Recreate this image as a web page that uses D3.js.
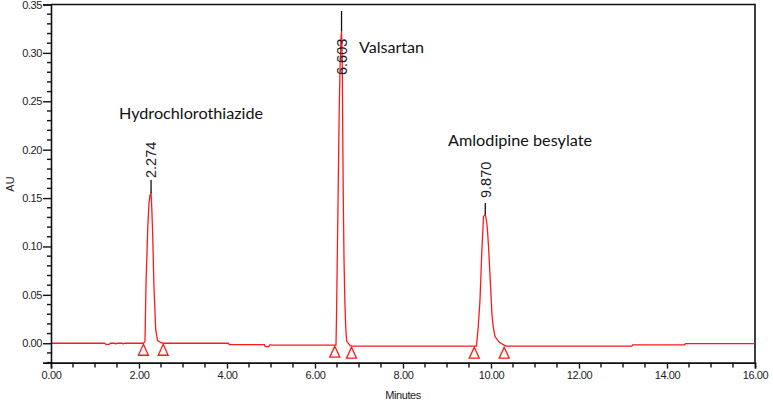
<!DOCTYPE html>
<html>
<head>
<meta charset="utf-8">
<script src="https://cdn.jsdelivr.net/npm/d3@7/dist/d3.min.js"></script>
<style>
  html, body { margin: 0; padding: 0; background: #fff; }
  svg { display: block; }
</style>
</head>
<body>
<svg id="chart" width="773" height="405"></svg>
<script>
// ---------------- DATA ----------------
// Chromatogram trace: [minutes, AU]
const baseline1 = [[0,0],[1.22,0],[1.25,-0.0012],[1.32,-0.0012],[1.35,0],[1.45,0],[1.47,-0.0008],[1.5,0],[1.62,0],[1.64,-0.0008],[1.67,0],[2.10,0]];
const peakHCTZ = [[2.136,0.002],[2.16,0.063],[2.20,0.12],[2.227,0.145],[2.25,0.153],[2.274,0.155],[2.29,0.14],[2.31,0.114],[2.34,0.058],[2.38,0.014],[2.42,0.003],[2.5,0.0005],[2.55,0]];
const baseline2 = [[4.03,0],[4.05,-0.0015],[4.85,-0.0015],[4.87,-0.0035],[4.95,-0.0035],[4.98,-0.0015],[5.02,-0.002],[6.45,-0.002]];
const peakVAL = [[6.477,-0.002],[6.49,0.031],[6.51,0.1],[6.53,0.169],[6.55,0.24],[6.57,0.286],[6.59,0.315],[6.603,0.322],[6.612,0.31],[6.62,0.286],[6.63,0.22],[6.645,0.141],[6.66,0.085],[6.68,0.041],[6.70,0.015],[6.72,0.002],[6.8,-0.0025],[6.85,-0.003]];
const baseline3 = [[9.62,-0.003]];
const peakAML = [[9.67,-0.003],[9.71,0.017],[9.75,0.045],[9.79,0.093],[9.83,0.131],[9.87,0.1333],[9.9,0.126],[9.92,0.117],[9.95,0.095],[9.975,0.072],[10.0,0.05],[10.02,0.031],[10.05,0.017],[10.09,0.007],[10.19,0.001],[10.3,-0.002],[10.35,-0.003]];
const baseline4 = [[13.2,-0.003],[13.22,-0.0017],[14.4,-0.0017],[14.42,-0.0003],[16,-0.0003]];

// Peaks: names, retention times, apex heights
const compounds = ["Hydrochlorothiazide", "Valsartan", "Amlodipine besylate"];
const retentionTimes = [2.274, 6.603, 9.870];
const rtLabels = ["2.274", "6.603", "9.870"];
const apexAU = [0.155, 0.322, 0.1333];
// Integration start/end markers (minutes) and baseline level at each
const markerTimes = [2.10, 2.55, 6.45, 6.83, 9.62, 10.30];
const markerAU = [0, 0, -0.002, -0.003, -0.003, -0.003];

// Axis ticks
const xMajorTicks = [0, 2, 4, 6, 8, 10, 12, 14, 16];
const yMajorTicks = [0.00, 0.05, 0.10, 0.15, 0.20, 0.25, 0.30, 0.35];
const xTitle = "Minutes";
const yTitle = "AU";

// ---------------- LAYOUT ----------------
const svg = d3.select("#chart");
const x = d3.scaleLinear().domain([0, 16]).range([51, 755]);
const y = d3.scaleLinear().domain([-0.02, 0.35]).range([362.6, 4.5]);

// frame (top & right)
svg.append("path")
  .attr("d", `M${x(0)},${y(0.35)}H${x(16)}V${y(-0.02)}`)
  .attr("fill", "none").attr("stroke", "#111").attr("stroke-width", 1.6);

// trace
const trace = [].concat(baseline1, peakHCTZ, baseline2, peakVAL, baseline3, peakAML, baseline4);
const line = d3.line().x(d => x(d[0])).y(d => y(d[1]));
svg.append("path").datum(trace)
  .attr("d", line)
  .attr("fill", "none").attr("stroke", "#ff1a1a").attr("stroke-width", 1.3);

// markers (triangles below baseline)
svg.selectAll("path.mk").data(markerTimes).enter().append("path")
  .attr("class", "mk")
  .attr("d", (t, i) => {
    const cx = x(t), cy = y(markerAU[i]) + 1;
    return `M${cx},${cy}L${cx + 5},${cy + 11}L${cx - 5},${cy + 11}Z`;
  })
  .attr("fill", "#fff").attr("stroke", "#ff1a1a").attr("stroke-width", 1.3);

// axes
const tickFont = "Liberation Sans, Arial, sans-serif";
const xAxis = d3.axisBottom(x).tickValues(xMajorTicks).tickFormat(d3.format(".2f")).tickSize(6).tickPadding(3);
const gx = svg.append("g").attr("transform", `translate(0,${y(-0.02)})`).call(xAxis);
const xMinor = d3.range(0, 16.01, 0.5).filter(v => v % 2 !== 0);
gx.selectAll("line.minor").data(xMinor).enter().append("line")
  .attr("class", "minor").attr("x1", d => x(d)).attr("x2", d => x(d))
  .attr("y1", 0).attr("y2", 5).attr("stroke", "#111").attr("stroke-width", 1.4);

const yAxis = d3.axisLeft(y).tickValues(yMajorTicks).tickFormat(d3.format(".2f")).tickSize(8).tickPadding(1);
const gy = svg.append("g").attr("transform", `translate(${x(0)},0)`).call(yAxis);
const yMinor = d3.range(-0.02, 0.351, 0.01).map(v => Math.round(v * 100) / 100).filter(v => Math.round(v * 100) % 5 !== 0 || v < 0);
gy.selectAll("line.minor").data(yMinor).enter().append("line")
  .attr("class", "minor").attr("y1", d => y(d)).attr("y2", d => y(d))
  .attr("x1", 0).attr("x2", -4).attr("stroke", "#111").attr("stroke-width", 1.4);

[gx, gy].forEach(g => {
  g.select(".domain").attr("stroke", "#111").attr("stroke-width", 1.6);
  g.selectAll(".tick line").attr("stroke", "#111").attr("stroke-width", 1.4);
  g.selectAll("text").attr("font-family", tickFont).attr("font-size", 11)
    .attr("letter-spacing", -0.4).attr("fill", "#222");
});

// axis titles
svg.append("text").attr("x", 403).attr("y", 399).attr("text-anchor", "middle")
  .attr("font-family", tickFont).attr("font-size", 11).attr("letter-spacing", -0.4)
  .attr("fill", "#222").text(xTitle);
svg.append("text").attr("transform", "translate(14,184) rotate(-90)").attr("text-anchor", "middle")
  .attr("font-family", tickFont).attr("font-size", 11).attr("fill", "#222").text(yTitle);

// peak retention-time labels with leader sticks
const stickTop = [180, 11, 203];
const labelStart = [178, 75, 198];
retentionTimes.forEach((rt, i) => {
  svg.append("line").attr("x1", x(rt)).attr("x2", x(rt))
    .attr("y1", stickTop[i]).attr("y2", y(apexAU[i]))
    .attr("stroke", "#111").attr("stroke-width", 1.3);
  svg.append("text")
    .attr("transform", `translate(${x(rt)},${labelStart[i]}) rotate(-90)`)
    .attr("dy", "0.36em")
    .attr("font-family", tickFont).attr("font-size", 14.5)
    .attr("fill", "#1a1a2a").text(rtLabels[i]);
});

// compound names
const namePos = [[191, 119, 144], [391.5, 53, 65], [520, 146, 144]];
compounds.forEach((n, i) => {
  svg.append("text").attr("x", namePos[i][0]).attr("y", namePos[i][1])
    .attr("text-anchor", "middle")
    .attr("font-family", "Lato, 'Open Sans', sans-serif").attr("font-size", 15.5)
    .attr("textLength", namePos[i][2]).attr("lengthAdjust", "spacingAndGlyphs")
    .attr("fill", "#111").text(n);
});
</script>
</body>
</html>
